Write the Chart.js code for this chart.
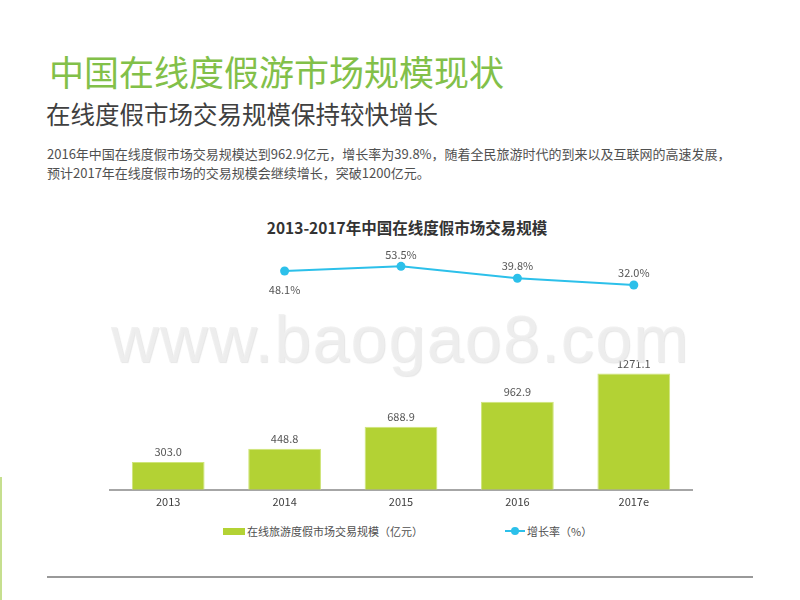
<!DOCTYPE html>
<html>
<head>
<meta charset="utf-8">
<script src="https://cdn.jsdelivr.net/npm/chart.js@4.4.0/dist/chart.umd.min.js"></script>
<style>
  body { margin:0; width:800px; height:600px; background:#fff; position:relative; overflow:hidden;
         font-family:"Noto Sans CJK SC","Microsoft YaHei",sans-serif; }
  .abs { position:absolute; white-space:nowrap; }
  #title { left:49px; top:48px; font-size:35px; color:#82c049; line-height:46px; }
  #subtitle { left:46px; top:98px; font-size:24.5px; color:#404040; line-height:32px; }
  #para { left:47px; top:144px; font-size:13px; color:#505050; line-height:19px; }
  #ctitle { left:0; width:814px; top:216px; text-align:center; font-size:15.5px; font-weight:bold; color:#333; }
  #wrap { left:100px; top:248px; width:600px; height:265px; }
  #mark { left:111px; top:306px; line-height:66px; font-family:"Liberation Sans",Arial,sans-serif;
          font-size:66px; color:rgba(238,238,238,0.85); text-shadow:1px 1px 1px rgba(200,200,200,0.45); letter-spacing:1.4px; }
  .leg { top:521px; font-size:11px; color:#505050; }
  .sw { display:inline-block; vertical-align:middle; }
  #rule { left:47px; top:576px; width:706px; height:2px; background:#999; }
  #edge { left:0; top:477px; width:2px; height:123px; background:#c6df8f; }
</style>
</head>
<body>
<div class="abs" id="title">中国在线度假游市场规模现状</div>
<div class="abs" id="subtitle">在线度假市场交易规模保持较快增长</div>
<div class="abs" id="para">2016年中国在线度假市场交易规模达到962.9亿元，增长率为39.8%，随着全民旅游时代的到来以及互联网的高速发展，<br>预计2017年在线度假市场的交易规模会继续增长，突破1200亿元。</div>
<div class="abs" id="ctitle">2013-2017年中国在线度假市场交易规模</div>
<div class="abs" id="wrap"><canvas id="chart" width="600" height="265"></canvas></div>
<div class="abs" id="mark">www.baogao8.com</div>
<div class="abs leg" style="left:223px"><span class="sw" style="width:22px;height:7px;background:#b3d234;margin-right:2px"></span><span style="vertical-align:middle">在线旅游度假市场交易规模（亿元）</span></div>
<div class="abs leg" style="left:505px"><span class="sw" style="position:relative;width:20px;height:8px;margin-right:2px"><span style="position:absolute;left:0;top:3px;width:20px;height:2px;background:#2cc0ea"></span><span style="position:absolute;left:6px;top:0;width:8px;height:8px;border-radius:4px;background:#2cc0ea"></span></span><span style="vertical-align:middle">增长率（%）</span></div>
<div class="abs" id="rule"></div>
<div class="abs" id="edge"></div>

<script>
// data
var years = ['2013', '2014', '2015', '2016', '2017e'];
var scale_vals = [303.0, 448.8, 688.9, 962.9, 1271.1];   // 亿元
var growth = [null, 48.1, 53.5, 39.8, 32.0];              // %
var growth_below = [false, true, false, false, false];

// value labels over bars / points
var labelPlugin = {
	id: 'valueLabels',
	afterDatasetsDraw: function(chart) {
		var ctx = chart.ctx;
		ctx.save();
		ctx.font = '11px "Noto Sans CJK SC", sans-serif';
		ctx.fillStyle = '#555';
		ctx.textAlign = 'center';
		ctx.textBaseline = 'middle';
		chart.getDatasetMeta(1).data.forEach(function(bar, i) {
			ctx.fillText(scale_vals[i].toFixed(1), bar.x, bar.y - 10);
		});
		chart.getDatasetMeta(0).data.forEach(function(pt, i) {
			if (growth[i] == null) return;
			var dy = growth_below[i] ? 19 : -12;
			ctx.fillText(growth[i].toFixed(1) + '%', pt.x, pt.y + dy);
		});
		ctx.restore();
	}
};

var chart = new Chart(document.getElementById('chart'), {
	data: {
		labels: years,
		datasets: [
			{
				type: 'line',
				label: '增长率（%）',
				data: growth,
				yAxisID: 'y1',
				borderColor: '#2cc0ea',
				backgroundColor: '#2cc0ea',
				borderWidth: 2,
				pointRadius: 4.5,
				pointBackgroundColor: '#2cc0ea',
				pointBorderWidth: 0,
				order: 0
			},
			{
				type: 'bar',
				label: '在线旅游度假市场交易规模（亿元）',
				data: scale_vals,
				yAxisID: 'y',
				backgroundColor: '#b3d234',
				borderColor: '#cfe57a',
				borderWidth: { top: 1, left: 1, right: 1, bottom: 0 },
				categoryPercentage: 1.0,
				barPercentage: 0.625,
				order: 1
			}
		]
	},
	options: {
		responsive: false,
		animation: false,
		layout: { padding: { left: 10, right: 8, top: 0, bottom: 0 } },
		plugins: { legend: { display: false }, tooltip: { enabled: false } },
		scales: {
			x: {
				grid: { display: false, drawTicks: false },
				border: { color: '#a6a6a6', width: 2 },
				ticks: { color: '#404040', font: { size: 11, family: '"Noto Sans CJK SC", sans-serif' }, padding: 5 }
			},
			y: { display: false, min: 0, max: 2596 },
			y1: { display: false, min: -203.3, max: 69.4 }
		}
	},
	plugins: [labelPlugin]
});
</script>
</body>
</html>
